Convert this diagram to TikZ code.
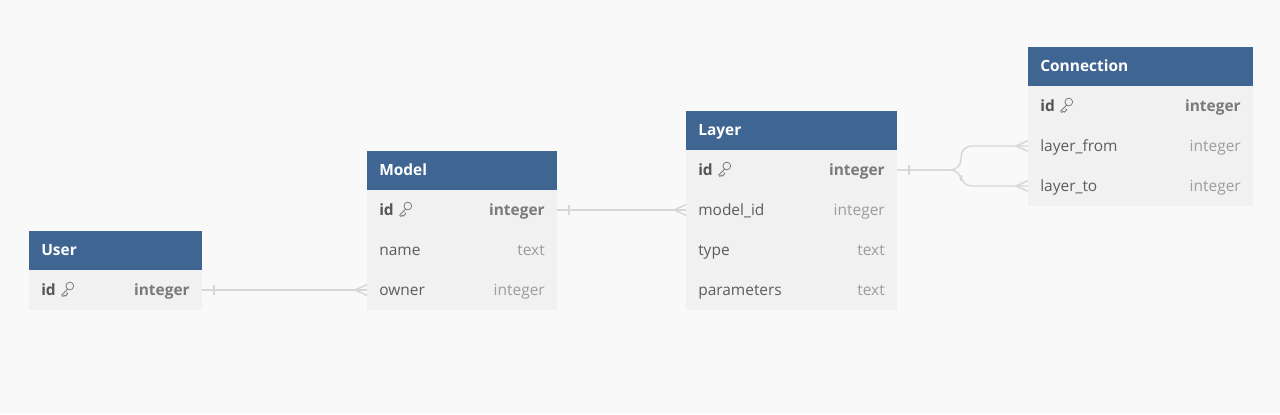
\documentclass[tikz,border=0pt]{standalone}
\usepackage{fontspec}
\setmainfont{Open Sans}
\definecolor{bgc}{HTML}{F9F9F9}
\definecolor{hdrc}{HTML}{3F6592}
\definecolor{rowc}{HTML}{F1F1F1}
\definecolor{colc}{HTML}{5C5C5C}
\definecolor{typc}{HTML}{9C9C9C}
\definecolor{pkc}{HTML}{555555}
\definecolor{pktc}{HTML}{7A7A7A}
\definecolor{linec}{HTML}{D6D6D6}
\tikzset{
  hdr/.style={fill=hdrc, draw=none, minimum height=29.25pt, anchor=north west, inner sep=0pt, outer sep=0pt},
  rowbox/.style={fill=rowc, draw=none, minimum height=30pt, anchor=north west, inner sep=0pt, outer sep=0pt},
  hdrtxt/.style={text=white, font=\fontsize{11.6}{13}\selectfont\bfseries, inner sep=0pt, anchor=base west},
  coltxt/.style={text=colc, font=\fontsize{11.6}{13}\selectfont, inner sep=0pt, anchor=base west},
  typtxt/.style={text=typc, font=\fontsize{11.6}{13}\selectfont, inner sep=0pt, anchor=base east},
  pktxt/.style={text=pkc, font=\fontsize{11.6}{13}\selectfont\bfseries, inner sep=0pt, anchor=base west},
  pktyp/.style={text=pktc, font=\fontsize{11.6}{13}\selectfont\bfseries, inner sep=0pt, anchor=base east},
  conn/.style={draw=linec, line width=1.1pt},
  keyicon/.pic={
    \draw[pktc, line width=0.6pt] (2.6pt,2.4pt) circle (2.9pt);
    \draw[pktc, line width=0.6pt, line cap=round, line join=round]
      (0.9pt,0.0pt) -- (-3.6pt,-4.5pt) -- (-2.6pt,-5.5pt) -- (-1.6pt,-4.5pt) -- (-0.8pt,-5.3pt) -- (1.1pt,-3.4pt) -- (0.2pt,-2.5pt);
  }
}
\newcommand\erhead[5]{%
  \node[hdr, minimum width={#4*0.75pt}] (#1) at (#2,#3) {};
  \node[hdrtxt] (#1-t) at ([xshift=9pt,yshift=-4pt]#1.west) {#5};
}
\newcommand\errow[6]{%
  \node[rowbox, minimum width={#4*0.75pt}] (#1) at (#2,#3) {};
  \node[coltxt] (#1-c) at ([xshift=9pt,yshift=-4pt]#1.west) {#5};
  \node[typtxt] (#1-y) at ([xshift=-9pt,yshift=-4pt]#1.east) {#6};
}
\newcommand\erpk[4]{%
  \node[rowbox, minimum width={#4*0.75pt}] (#1) at (#2,#3) {};
  \node[pktxt] (#1-c) at ([xshift=9pt,yshift=-4pt]#1.west) {id};
  \node[pktyp] (#1-y) at ([xshift=-9pt,yshift=-4pt]#1.east) {integer};
  \pic at ([xshift=28pt,yshift=0.6pt]#1.west) {keyicon};
}
\begin{document}
\begin{tikzpicture}[x=0.75pt,y=-0.75pt]
\fill[bgc] (0,0) rectangle (1280,414);
\useasboundingbox (0,0) rectangle (1280,414);

% User
\erhead{user}{29}{231}{173}{User}
\erpk{user-id}{29}{270}{173}

% Model
\erhead{model}{367}{151}{190}{Model}
\erpk{model-id}{367}{190}{190}
\errow{model-name}{367}{230}{190}{name}{text}
\errow{model-owner}{367}{270}{190}{owner}{integer}

% Layer
\erhead{layer}{686}{111}{211}{Layer}
\erpk{layer-id}{686}{150}{211}
\errow{layer-model}{686}{190}{211}{model\_id}{integer}
\errow{layer-type}{686}{230}{211}{type}{text}
\errow{layer-params}{686}{270}{211}{parameters}{text}

% Connection
\erhead{connection}{1028}{47}{225}{Connection}
\erpk{conn-id}{1028}{86}{225}
\errow{conn-from}{1028}{126}{225}{layer\_from}{integer}
\errow{conn-to}{1028}{166}{225}{layer\_to}{integer}

% User.id -> Model.owner
\draw[conn] (user-id.east) -- (model-owner.west);
\draw[conn] ([xshift=9pt,yshift=-4pt]user-id.east) -- ([xshift=9pt,yshift=4pt]user-id.east);
\draw[conn] ([yshift=4pt]model-owner.west) -- ([xshift=-9pt]model-owner.west) -- ([yshift=-4pt]model-owner.west);

% Model.id -> Layer.model_id
\draw[conn] (model-id.east) -- (layer-model.west);
\draw[conn] ([xshift=9pt,yshift=-4pt]model-id.east) -- ([xshift=9pt,yshift=4pt]model-id.east);
\draw[conn] ([yshift=4pt]layer-model.west) -- ([xshift=-9pt]layer-model.west) -- ([yshift=-4pt]layer-model.west);

% Layer.id -> Connection.layer_from / layer_to
\coordinate (split) at (961,170);
\draw[conn, rounded corners=8pt] (layer-id.east) -| (split |- conn-from.west) -- (conn-from.west);
\draw[conn, rounded corners=8pt] (layer-id.east) -| (split |- conn-to.west) -- (conn-to.west);
\draw[conn] ([xshift=9pt,yshift=-4pt]layer-id.east) -- ([xshift=9pt,yshift=4pt]layer-id.east);
\draw[conn] ([yshift=4pt]conn-from.west) -- ([xshift=-9pt]conn-from.west) -- ([yshift=-4pt]conn-from.west);
\draw[conn] ([yshift=4pt]conn-to.west) -- ([xshift=-9pt]conn-to.west) -- ([yshift=-4pt]conn-to.west);
\end{tikzpicture}
\end{document}
